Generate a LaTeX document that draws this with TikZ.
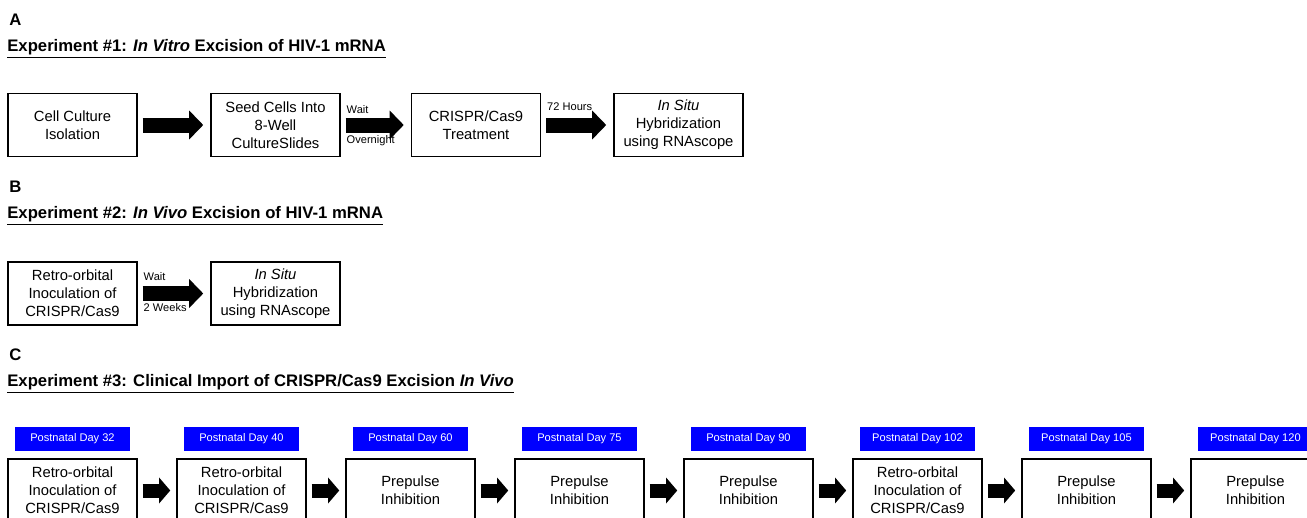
\documentclass[tikz,border=0pt]{standalone}
\usepackage{fontspec}
\setmainfont{Liberation Sans}
\usepackage{xcolor}
\usetikzlibrary{positioning,arrows.meta}
\definecolor{dayblue}{RGB}{0,0,255}

\tikzset{
  stepbox/.style={draw, rectangle, line width=0.85pt, minimum width=2.58cm, minimum height=1.26cm, align=center, inner sep=1pt, font=\fontsize{8.4}{10.2}\selectfont},
  daylabel/.style={rectangle, fill=dayblue, text=white, minimum width=2.3cm, minimum height=0.48cm, inner sep=0pt, font=\fontsize{6.3}{7}\selectfont},
  panel/.style={anchor=west, inner sep=0pt, font=\fontsize{9.5}{11}\selectfont\bfseries},
  waitnote/.style={anchor=west, inner sep=0pt, xshift=-0.03cm, font=\fontsize{6.3}{7}\selectfont},
  bigarrow/.style={line width=0.3cm, -{Triangle[length=0.28cm,width=0.56cm]}, shorten <=0.1cm, shorten >=0.14cm},
  smallarrow/.style={line width=0.28cm, -{Triangle[length=0.22cm,width=0.5cm]}, shorten <=0.1cm, shorten >=0.12cm}
}

\begin{document}
\begin{tikzpicture}[node distance=1.45cm]
    \path[use as bounding box, clip] (0,0) rectangle (26.14,-10.36);

    % Panel A
    \node (labA) [panel] at (0.18,-0.4) {A};
    \node (headA) [panel] at (0.14,-0.98) {\underline{Experiment \#1: \textit{In Vitro} Excision of HIV-1 mRNA}};
    \node (isolate) [stepbox] at (1.45,-2.5) {Cell Culture\\Isolation};
    \node (seed) [stepbox, right=of isolate] {Seed Cells Into\\8-Well\\CultureSlides};
    \node (treatA) [stepbox, right=1.4cm of seed] {CRISPR/Cas9\\Treatment};
    \node (hybA) [stepbox, right=1.44cm of treatA] {\textit{In Situ}\\Hybridization\\using RNAscope};

    \draw[bigarrow] (isolate) -- (seed);
    \draw[bigarrow] (seed) -- node (waitA) [waitnote, at start, yshift=0.31cm] {Wait}
        node (nightA) [waitnote, at start, yshift=-0.31cm] {Overnight} (treatA);
    \draw[bigarrow] (treatA) -- node (hoursA) [waitnote, at start, yshift=0.37cm] {72 Hours} (hybA);

    % Panel B
    \node (labB) [panel] at (0.18,-3.74) {B};
    \node (headB) [panel] at (0.14,-4.32) {\underline{Experiment \#2: \textit{In Vivo} Excision of HIV-1 mRNA}};
    \node (inocB) [stepbox] at (1.45,-5.87) {Retro-orbital\\Inoculation of\\CRISPR/Cas9};
    \node (hybB) [stepbox, right=of inocB] {\textit{In Situ}\\Hybridization\\using RNAscope};

    \draw[bigarrow] (inocB) -- node (waitB) [waitnote, at start, yshift=0.33cm] {Wait}
        node (weeksB) [waitnote, at start, yshift=-0.29cm] {2 Weeks} (hybB);

    % Panel C
    \node (labC) [panel] at (0.18,-7.1) {C};
    \node (headC) [panel] at (0.14,-7.68) {\underline{Experiment \#3: Clinical Import of CRISPR/Cas9 Excision \textit{In Vivo}}};
    \node (pnd32) [stepbox] at (1.45,-9.81) {Retro-orbital\\Inoculation of\\CRISPR/Cas9};
    \node (pnd40) [stepbox, right=0.77cm of pnd32] {Retro-orbital\\Inoculation of\\CRISPR/Cas9};
    \node (pnd60) [stepbox, right=0.77cm of pnd40] {Prepulse\\Inhibition};
    \node (pnd75) [stepbox, right=0.77cm of pnd60] {Prepulse\\Inhibition};
    \node (pnd90) [stepbox, right=0.77cm of pnd75] {Prepulse\\Inhibition};
    \node (pnd102) [stepbox, right=0.77cm of pnd90] {Retro-orbital\\Inoculation of\\CRISPR/Cas9};
    \node (pnd105) [stepbox, right=0.77cm of pnd102] {Prepulse\\Inhibition};
    \node (pnd120) [stepbox, right=0.77cm of pnd105] {Prepulse\\Inhibition};

    % Day labels
    \node (day32) [daylabel, above=0.14cm of pnd32] {Postnatal Day 32};
    \node (day40) [daylabel, above=0.14cm of pnd40] {Postnatal Day 40};
    \node (day60) [daylabel, above=0.14cm of pnd60] {Postnatal Day 60};
    \node (day75) [daylabel, above=0.14cm of pnd75] {Postnatal Day 75};
    \node (day90) [daylabel, above=0.14cm of pnd90] {Postnatal Day 90};
    \node (day102) [daylabel, above=0.14cm of pnd102] {Postnatal Day 102};
    \node (day105) [daylabel, above=0.14cm of pnd105] {Postnatal Day 105};
    \node (day120) [daylabel, above=0.14cm of pnd120] {Postnatal Day 120};

    % Arrows
    \draw[smallarrow] (pnd32) -- (pnd40);
    \draw[smallarrow] (pnd40) -- (pnd60);
    \draw[smallarrow] (pnd60) -- (pnd75);
    \draw[smallarrow] (pnd75) -- (pnd90);
    \draw[smallarrow] (pnd90) -- (pnd102);
    \draw[smallarrow] (pnd102) -- (pnd105);
    \draw[smallarrow] (pnd105) -- (pnd120);
\end{tikzpicture}
\end{document}
